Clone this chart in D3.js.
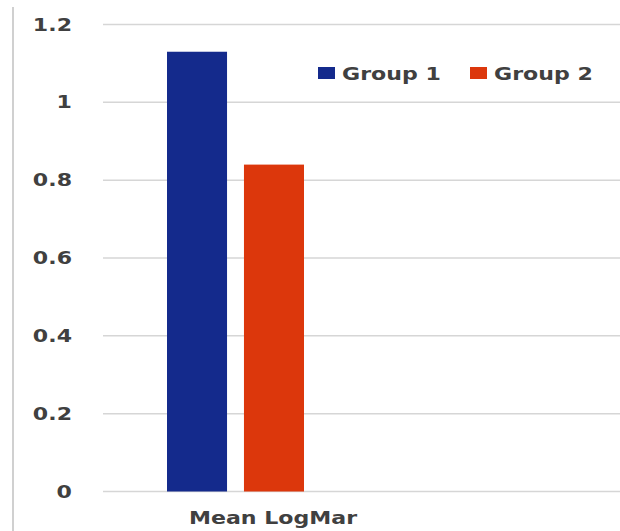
<!DOCTYPE html>
<html>
<head>
<meta charset="utf-8">
<script src="https://cdn.jsdelivr.net/npm/d3@7"></script>
<style>
  body { margin: 0; background: #fff; }
  text { font-family: "DejaVu Sans", Verdana, sans-serif; font-weight: bold; fill: #404040; }
</style>
</head>
<body>
<script>
const width = 620;
const height = 531;

const categories = ["Mean LogMar"];
const groups = ["Group 1", "Group 2"];
const values = [1.13, 0.84];
const colors = ["#142a8c", "#dc370c"];
const yTicks = [0, 0.2, 0.4, 0.6, 0.8, 1, 1.2];

// text in the picture is stretched sideways
const stretch = 1.3;

const svg = d3.select("body")
  .append("svg")
  .attr("width", width)
  .attr("height", height);

const yScale = d3.scaleLinear()
  .domain([0, 1.2])
  .range([491.5, 24.5]);

const xCat = d3.scaleBand()
  .domain(categories)
  .range([103, 443]);

const xGroup = d3.scaleBand()
  .domain(groups)
  .range([167, 304])
  .paddingInner(0.22);

// left frame line
svg.append("line")
  .attr("x1", 13).attr("x2", 13)
  .attr("y1", 7).attr("y2", height)
  .attr("stroke", "#d0d0d0")
  .attr("stroke-width", 2);

// gridlines
svg.selectAll(".grid")
  .data(yTicks)
  .enter()
  .append("line")
  .attr("class", "grid")
  .attr("x1", 103)
  .attr("x2", width)
  .attr("y1", d => yScale(d))
  .attr("y2", d => yScale(d))
  .attr("stroke", "#d6d6d6")
  .attr("stroke-width", 1.5);

// y tick labels
svg.selectAll(".ytick")
  .data(yTicks)
  .enter()
  .append("text")
  .attr("class", "ytick")
  .attr("transform", d => `translate(72,${yScale(d) + 6}) scale(${stretch},1)`)
  .attr("text-anchor", "end")
  .attr("font-size", 17)
  .text(d => d);

// bars
svg.selectAll(".bar")
  .data(values)
  .enter()
  .append("rect")
  .attr("class", "bar")
  .attr("x", (d, i) => xGroup(groups[i]))
  .attr("width", xGroup.bandwidth())
  .attr("y", d => yScale(d))
  .attr("height", d => yScale(0) - yScale(d))
  .attr("fill", (d, i) => colors[i]);

// category label
svg.selectAll(".xlabel")
  .data(categories)
  .enter()
  .append("text")
  .attr("class", "xlabel")
  .attr("transform", d => `translate(${xCat(d) + xCat.bandwidth() / 2},524) scale(${stretch},1)`)
  .attr("text-anchor", "middle")
  .attr("font-size", 17)
  .text(d => d);

// legend
const legendX = [318, 470];
const legend = svg.selectAll(".legend")
  .data(groups)
  .enter()
  .append("g")
  .attr("class", "legend")
  .attr("transform", (d, i) => `translate(${legendX[i]},67)`);

legend.append("rect")
  .attr("width", 17)
  .attr("height", 12)
  .attr("fill", (d, i) => colors[i]);

legend.append("text")
  .attr("transform", `translate(24,12.5) scale(${stretch},1)`)
  .attr("font-size", 17)
  .text(d => d);
</script>
</body>
</html>
